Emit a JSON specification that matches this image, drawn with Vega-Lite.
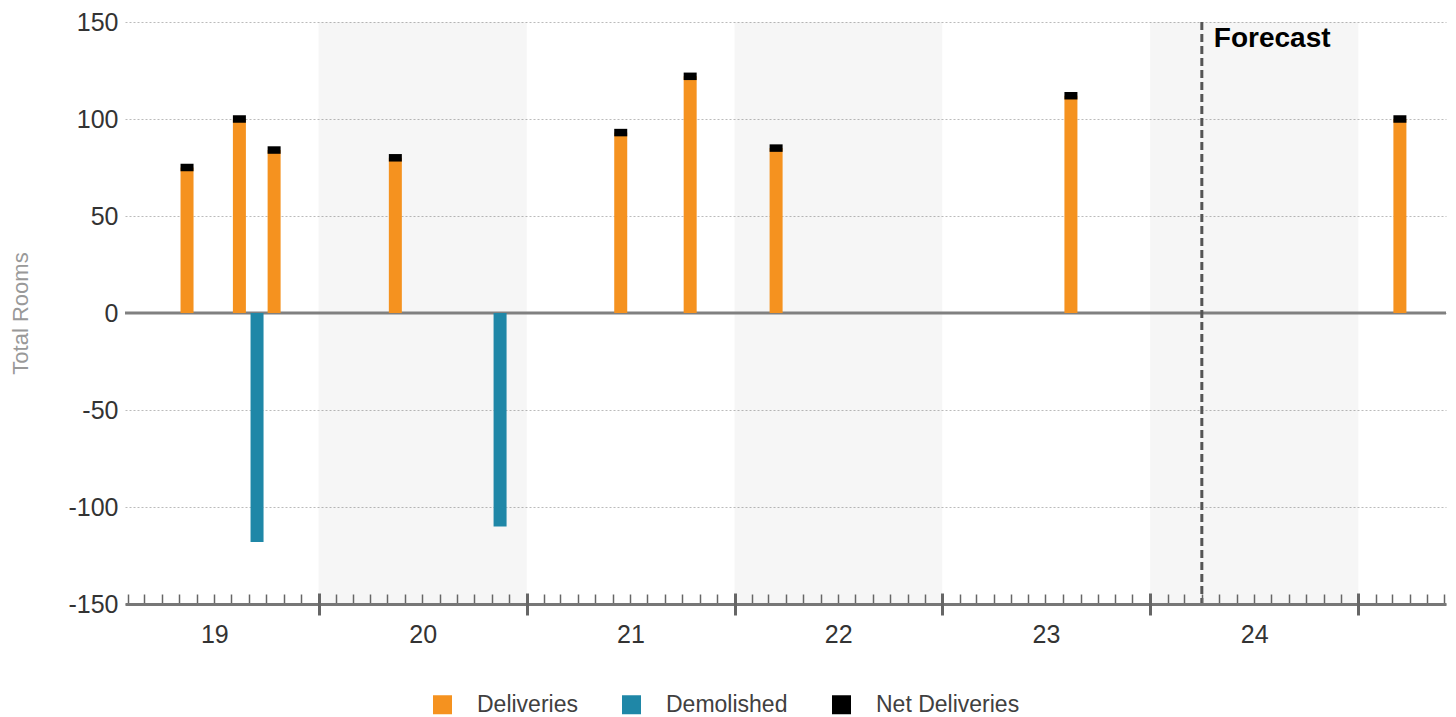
{
  "$schema": "https://vega.github.io/schema/vega-lite/v6.json",
  "width": 1321,
  "height": 582,
  "autosize": {"type": "none"},
  "padding": {"left": 125, "top": 22, "right": 10, "bottom": 113},
  "background": "white",
  "datasets": {
    "rooms": [
      {"date": "2019-05-15", "type": "Deliveries", "value": 75},
      {"date": "2019-08-15", "type": "Deliveries", "value": 100},
      {"date": "2019-09-15", "type": "Demolished", "value": -118},
      {"date": "2019-10-15", "type": "Deliveries", "value": 84},
      {"date": "2020-05-15", "type": "Deliveries", "value": 80},
      {"date": "2020-11-15", "type": "Demolished", "value": -110},
      {"date": "2021-06-15", "type": "Deliveries", "value": 93},
      {"date": "2021-10-15", "type": "Deliveries", "value": 122},
      {"date": "2022-03-15", "type": "Deliveries", "value": 85},
      {"date": "2023-08-15", "type": "Deliveries", "value": 112},
      {"date": "2025-03-15", "type": "Deliveries", "value": 100},
      {"date": "2019-05-15", "type": "Net Deliveries", "value": 75},
      {"date": "2019-08-15", "type": "Net Deliveries", "value": 100},
      {"date": "2019-10-15", "type": "Net Deliveries", "value": 84},
      {"date": "2020-05-15", "type": "Net Deliveries", "value": 80},
      {"date": "2021-06-15", "type": "Net Deliveries", "value": 93},
      {"date": "2021-10-15", "type": "Net Deliveries", "value": 122},
      {"date": "2022-03-15", "type": "Net Deliveries", "value": 85},
      {"date": "2023-08-15", "type": "Net Deliveries", "value": 112},
      {"date": "2025-03-15", "type": "Net Deliveries", "value": 100}
    ],
    "shaded_years": [
      {"start": "2020-01-01", "end": "2021-01-01"},
      {"start": "2022-01-01", "end": "2023-01-01"},
      {"start": "2024-01-01", "end": "2025-01-01"}
    ],
    "forecast": [
      {"forecast_start": "2024-04-01", "label": "Forecast", "top": 150}
    ],
    "baseline": [
      {"level": 0}
    ]
  },
  "resolve": {"axis": {"x": "independent"}},
  "layer": [
    {
      "data": {"name": "shaded_years"},
      "mark": {"type": "rect", "fill": "#000000", "opacity": 0.035},
      "encoding": {
        "x": {
          "field": "start", "type": "temporal",
          "scale": {"type": "utc", "padding": 0, "domain": [{"year": 2019, "month": 1, "date": 26, "utc": true}, {"year": 2025, "month": 6, "date": 4, "utc": true}]},
          "axis": {
            "orient": "bottom", "title": null, "labels": false, "grid": false,
            "tickCount": {"interval": "month", "step": 1},
            "tickSize": -10, "tickWidth": 1.5, "tickColor": "#666666",
            "domain": true, "domainWidth": 3, "domainColor": "#777777", "zindex": 1
          }
        },
        "x2": {"field": "end"}
      }
    },
    {
      "data": {"name": "baseline"},
      "mark": {"type": "rule", "color": "#808080", "strokeWidth": 3},
      "encoding": {"y": {"field": "level", "type": "quantitative", "title": "Total Rooms"}}
    },
    {
      "data": {"name": "rooms"},
      "transform": [{"filter": "datum.type !== 'Net Deliveries'"}],
      "mark": {"type": "bar", "width": 13, "opacity": 1},
      "encoding": {
        "x": {
          "field": "date", "type": "temporal",
          "axis": {
            "orient": "bottom", "title": null, "labels": false, "grid": false, "domain": false,
            "values": [
              {"year": 2020, "month": 1, "date": 1, "utc": true},
              {"year": 2021, "month": 1, "date": 1, "utc": true},
              {"year": 2022, "month": 1, "date": 1, "utc": true},
              {"year": 2023, "month": 1, "date": 1, "utc": true},
              {"year": 2024, "month": 1, "date": 1, "utc": true},
              {"year": 2025, "month": 1, "date": 1, "utc": true}
            ],
            "tickSize": 22, "offset": -11, "tickWidth": 3, "tickColor": "#666666", "zindex": 1
          }
        },
        "y": {
          "field": "value", "type": "quantitative", "stack": null, "title": "Total Rooms",
          "scale": {"domain": [-150, 150], "nice": false, "padding": 0}
        },
        "color": {
          "field": "type", "type": "nominal",
          "scale": {"domain": ["Deliveries", "Demolished", "Net Deliveries"], "range": ["#F5921F", "#1F87A7", "#000000"]},
          "legend": {
            "orient": "none", "legendX": 306, "legendY": 671, "direction": "horizontal",
            "title": null, "symbolType": "square", "symbolSize": 361, "symbolStrokeWidth": 0, "symbolOpacity": 1,
            "labelFontSize": 23, "labelColor": "#404040", "labelFont": "Liberation Sans",
            "labelOffset": 23, "columnPadding": 42, "padding": 0
          }
        }
      }
    },
    {
      "data": {"name": "rooms"},
      "transform": [{"filter": "datum.type === 'Net Deliveries'"}],
      "mark": {"type": "tick", "orient": "horizontal", "size": 13, "thickness": 7.5, "opacity": 1},
      "encoding": {
        "x": {
          "field": "date", "type": "temporal",
          "axis": {
            "orient": "bottom", "title": null, "grid": false, "domain": false, "ticks": false, "tickSize": 0,
            "values": [
              {"year": 2019, "month": 7, "date": 2, "utc": true},
              {"year": 2020, "month": 7, "date": 2, "utc": true},
              {"year": 2021, "month": 7, "date": 2, "utc": true},
              {"year": 2022, "month": 7, "date": 2, "utc": true},
              {"year": 2023, "month": 7, "date": 2, "utc": true},
              {"year": 2024, "month": 7, "date": 2, "utc": true}
            ],
            "labelExpr": "utcFormat(datum.value, '%y')",
            "labelFontSize": 25, "labelColor": "#333333", "labelFont": "Liberation Sans",
            "labelPadding": 18, "labelAlign": "center", "labelBaseline": "top"
          }
        },
        "y": {"field": "value", "type": "quantitative", "title": "Total Rooms"},
        "color": {"field": "type", "type": "nominal"}
      }
    },
    {
      "data": {"name": "forecast"},
      "mark": {"type": "rule", "color": "#555555", "strokeWidth": 3, "strokeDash": [8, 4]},
      "encoding": {
        "x": {"field": "forecast_start", "type": "temporal", "axis": null}
      }
    },
    {
      "data": {"name": "forecast"},
      "mark": {"type": "text", "align": "left", "baseline": "middle", "dx": 12, "dy": 17,
               "font": "Liberation Sans", "fontSize": 28, "fontWeight": "bold", "color": "#000000"},
      "encoding": {
        "x": {"field": "forecast_start", "type": "temporal", "axis": null},
        "y": {"field": "top", "type": "quantitative", "title": "Total Rooms"},
        "text": {"field": "label"}
      }
    }
  ],
  "config": {
    "view": {"stroke": null},
    "font": "Liberation Sans",
    "axisY": {
      "domain": false, "ticks": false, "tickSize": 0, "tickCount": 6,
      "labelExpr": "datum.value < 0 ? '-' + abs(datum.value) : '' + datum.value",
      "labelPadding": 7, "labelFontSize": 25, "labelColor": "#333333", "labelFont": "Liberation Sans",
      "grid": true, "gridDash": [2, 2], "gridColor": "#bbbbbb", "gridWidth": 1,
      "titleFont": "Liberation Sans", "titleFontSize": 22, "titleColor": "#999999", "titleFontWeight": "normal",
      "titleX": -105, "titleY": 291, "titleAngle": -90, "titleAlign": "center", "titleBaseline": "middle"
    }
  }
}
